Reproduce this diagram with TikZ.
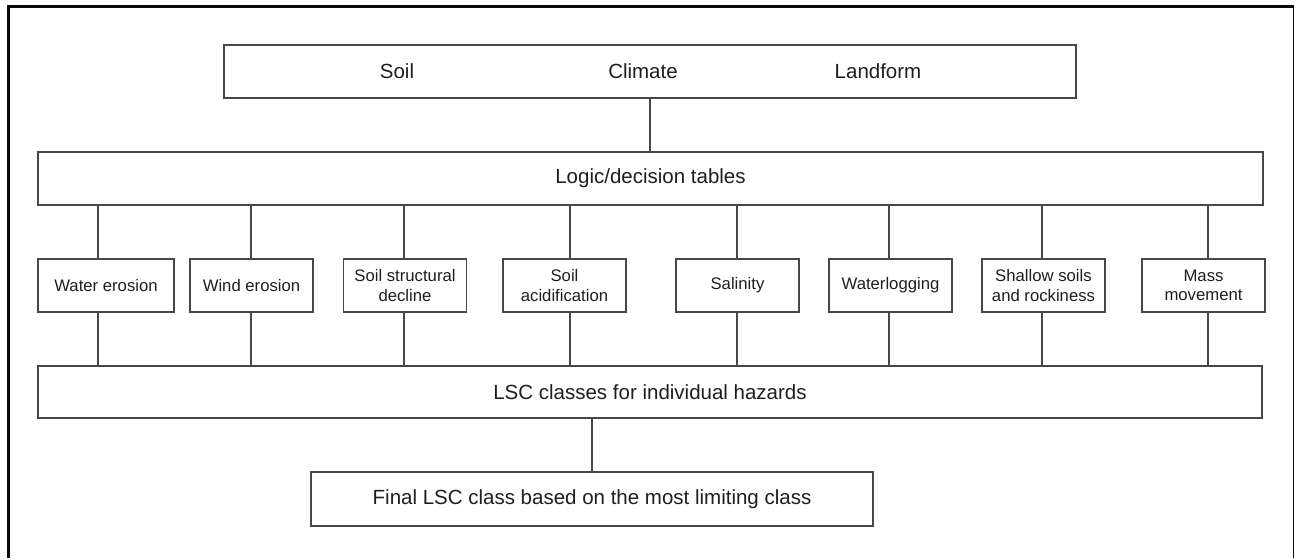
\documentclass[tikz,border=0pt]{standalone}
\usepackage{fontspec}
\setmainfont{Liberation Sans}
\definecolor{linec}{RGB}{72,72,72}
\definecolor{textc}{RGB}{30,30,30}
\definecolor{framec}{RGB}{10,10,10}
\begin{document}
\begin{tikzpicture}[x=1pt,y=-1pt,
  box/.style={draw=linec, line width=1.4pt, rectangle, inner sep=0pt, text=textc, align=center},
  bigtext/.style={font=\fontsize{20.5}{24}\selectfont, text=textc},
  smalltext/.style={font=\fontsize{16.7}{19.5}\selectfont},
  haz/.style={box, smalltext, minimum width=123pt, minimum height=53pt},
  conn/.style={draw=linec, line width=1.4pt}]
\useasboundingbox (0,0) rectangle (1296,558);
% outer frame (open at bottom)
\draw[framec, line width=3pt] (8.8,558) -- (8.8,6.2) -- (1293.5,6.2);
\draw[framec, line width=1.5pt] (1293.5,6.2) -- (1293.5,558);
% top box
\node[box, minimum width=852pt, minimum height=53pt] (top) at (650,71.5) {};
\node[bigtext] (soil) at (397,71) {Soil};
\node[bigtext] (climate) at (643,71) {Climate};
\node[bigtext] (landform) at (878,71) {Landform};
% logic box
\node[box, bigtext, minimum width=1225pt, minimum height=53pt] (logic) at (650.5,178.5) {Logic/decision tables};
% hazards
\node[haz, minimum width=136pt] (h1) at (106,285.5) {Water erosion};
\node[haz] (h2) at (251.5,285.5) {Wind erosion};
\node[haz] (h3) at (405,285.5) {Soil structural\\decline};
\node[haz] (h4) at (564.5,285.5) {Soil\\acidification};
\node[haz] (h5) at (737.5,285.5) {Salinity};
\node[haz] (h6) at (890.5,285.5) {Waterlogging};
\node[haz] (h7) at (1043.5,285.5) {Shallow soils\\and rockiness};
\node[haz] (h8) at (1203.5,285.5) {Mass\\movement};
% LSC box
\node[box, bigtext, minimum width=1224pt, minimum height=52pt] (lsc) at (650,392) {LSC classes for individual hazards};
% final box
\node[box, bigtext, minimum width=562pt, minimum height=54pt] (final) at (592,499) {Final LSC class based on the most limiting class};
% connectors
\draw[conn] (top.south -| 650,0) -- (logic.north -| 650,0);
\foreach \n/\xx in {h1/98, h2/251, h3/404, h4/570, h5/737, h6/889, h7/1042, h8/1208}{
  \draw[conn] (logic.south -| \xx,0) -- (\n.north -| \xx,0);
  \draw[conn] (\n.south -| \xx,0) -- (lsc.north -| \xx,0);
}
\draw[conn] (lsc.south -| final.north) -- (final.north);
\end{tikzpicture}
\end{document}
